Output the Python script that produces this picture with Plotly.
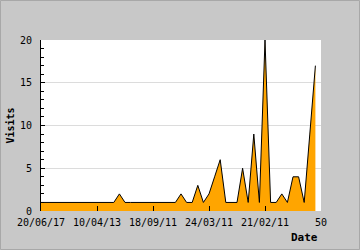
import plotly.graph_objects as go

# data (index positions along the axis, and visits)
visits = [1, 1, 1, 1, 1, 1, 1, 1, 1, 1,
          1, 1, 1, 1, 2, 1, 1, 1, 1, 1,
          1, 1, 1, 1, 1, 2, 1, 1, 3, 1,
          2, 4, 6, 1, 1, 1, 5, 1, 9, 1,
          20, 1, 1, 2, 1, 4, 4, 1, 9, 17]
positions = list(range(len(visits)))
tick_positions = [0, 10, 20, 30, 40, 50]
tick_labels = ["20/06/17", "10/04/13", "18/09/11", "24/03/11", "21/02/11", "50"]

W, H = 360, 250
L, R, T, B = 41, 39, 40, 39
pw, ph = W - L - R, H - T - B

mono = "DejaVu Sans Mono"

fig = go.Figure()
fig.add_trace(go.Scatter(
    x=positions, y=visits, mode="lines",
    line=dict(color="black", width=1),
    fill="tozeroy", fillcolor="#ffa500",
    hoverinfo="skip", showlegend=False,
))

fig.update_layout(
    width=W, height=H,
    margin=dict(l=L, r=R, t=T, b=B, pad=0),
    paper_bgcolor="#c8c8c8",
    plot_bgcolor="white",
    showlegend=False,
    font=dict(family=mono, size=10, color="black"),
)
fig.update_xaxes(
    range=[0, 50], tickmode="array", tickvals=tick_positions, ticktext=tick_labels,
    ticks="inside", ticklen=5, tickcolor="black", tickwidth=1,
    showline=False, showgrid=False, zeroline=False,
    tickfont=dict(family=mono, size=10, color="black"),
    ticklabelstandoff=4,
    fixedrange=True,
)
fig.update_yaxes(
    range=[0, 20], dtick=5, tick0=0,
    ticks="inside", ticklen=4, tickcolor="black", tickwidth=1,
    minor=dict(dtick=1, ticks="inside", ticklen=3, tickcolor="black", showgrid=False),
    showline=True, linecolor="black", linewidth=1,
    showgrid=True, gridcolor="#dcdcdc", gridwidth=1, zeroline=False,
    tickfont=dict(family=mono, size=10, color="black"),
    ticklabelstandoff=6,
    fixedrange=True,
)

fig.add_annotation(
    text="<b>Visits</b>", textangle=-90, showarrow=False,
    xref="paper", yref="paper", x=-31 / pw, y=0.5, xanchor="center", yanchor="middle",
    font=dict(family=mono, size=10, color="black"),
)
fig.add_annotation(
    text="<b>Date</b>", showarrow=False,
    xref="paper", yref="paper", x=1 - 1 / pw, y=-18 / ph, xanchor="right", yanchor="top",
    font=dict(family=mono, size=11, color="black"),
)
fig.add_shape(
    type="rect", xref="paper", yref="paper",
    x0=-(L - 0.5) / pw, x1=1 + (R - 0.5) / pw, y0=-(B - 0.5) / ph, y1=1 + (T - 0.5) / ph,
    line=dict(color="#a8a8a8", width=1), layer="below",
)

fig.write_html("out.html", config={"displayModeBar": False})
